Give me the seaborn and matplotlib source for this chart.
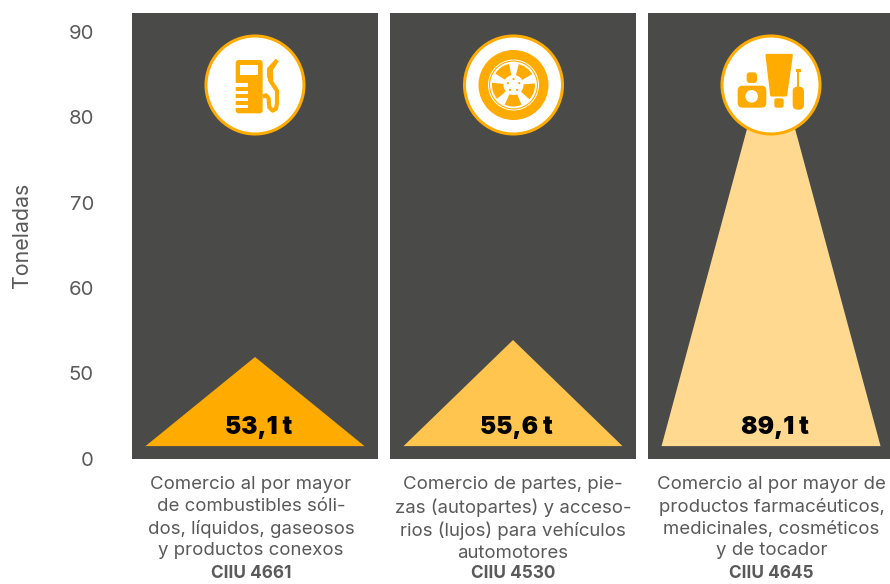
import numpy as np
import pandas as pd
import seaborn as sns
import matplotlib.pyplot as plt
from matplotlib.patches import Circle, Wedge, FancyBboxPatch, Polygon, Rectangle

# datos
codigos = ['CIIU 4661', 'CIIU 4530', 'CIIU 4645']
descripciones = [
    'Comercio al por mayor\nde combustibles sóli-\ndos, líquidos, gaseosos\ny productos conexos',
    'Comercio de partes, pie-\nzas (autopartes) y acceso-\nrios (lujos) para vehículos\nautomotores',
    'Comercio al por mayor de\nproductos farmacéuticos,\nmedicinales, cosméticos\ny de tocador',
]
toneladas = [53.1, 55.6, 89.1]
etiquetas = ['53,1 t', '55,6 t', '89,1 t']
colores = ['#FFAB00', '#FFC54F', '#FFD98F']
ticks_y = [0, 50, 60, 70, 80, 90]

GRIS = '#4A4A49'
TEXTO = '#5A5A5A'
NARANJA = '#FFAB00'
W, H = 890, 584

# la escala del eje esta cortada entre 0 y 50
esc_val = [-100, 0, 50, 53.1, 55.6, 60, 70, 80, 90, 92.2, 200]
esc_pix = [545.3, 459, 373, 357, 340, 288, 203, 117, 32, 13, -80]
ALTO_PANEL = 92.2
BASE = 7.5
MEDIO_ANCHO = 0.4244
POS_TEXTO = [-0.016, 1, 2.002]


def adelante(v):
    return np.interp(v, esc_val, -np.array(esc_pix))


def atras(p):
    return np.interp(p, -np.array(esc_pix), esc_val)


sns.set_theme(style='white')
plt.rcParams['font.family'] = ['Inter', 'DejaVu Sans']

df = pd.DataFrame({'codigo': codigos, 'panel': [ALTO_PANEL] * 3})

fig = plt.figure(figsize=(W / 100, H / 100), dpi=100)
ax = fig.add_axes([126 / W, 1 - 459 / H, (W - 126) / W, (459 - 13) / H])
ax.set_yscale('function', functions=(adelante, atras))
sns.barplot(data=df, x='codigo', y='panel', color=GRIS, saturation=1, width=0.953, linewidth=0, ax=ax)
ax.set_xlim(-0.5, 2.461)
ax.set_ylim(0, ALTO_PANEL)

for i, (v, c, e) in enumerate(zip(toneladas, colores, etiquetas)):
    ax.fill([i - MEDIO_ANCHO, i, i + MEDIO_ANCHO], [BASE, v, BASE], color=c, lw=0, zorder=3)
    ax.annotate(e, (i, BASE), xytext=(2.5, 13.7), textcoords='offset points', ha='center', va='center',
                fontsize=17.5, fontweight='black', color='black', zorder=4)

ax.set_yticks(ticks_y)
ax.set_yticklabels([str(t) for t in ticks_y], fontsize=14.6, color=TEXTO)
ax.minorticks_off()
ax.tick_params(axis='y', length=0, pad=23)
ax.set_ylabel('')
ax.set_xlabel('')
ax.set_xticks(POS_TEXTO)
ax.set_xticklabels(descripciones, fontsize=13.4, color=TEXTO, linespacing=1.34)
ax.tick_params(axis='x', length=0, pad=12.5)
sns.despine(ax=ax, left=True, bottom=True)

fig.text(22 / W, 1 - 235 / H, 'Toneladas', rotation=90, ha='center', va='center', fontsize=15.4, color=TEXTO)
for p, c in zip(POS_TEXTO, codigos):
    ax.annotate(c, (p, 0), xytext=(0, -115), textcoords='offset pixels', ha='center', va='center',
                fontsize=12.4, fontweight='bold', color=TEXTO, annotation_clip=False)

# capa de iconos en pixeles
ov = fig.add_axes([0, 0, 1, 1], facecolor='none')
ov.set_xlim(0, W)
ov.set_ylim(H, 0)
ov.axis('off')


def caja(x0, y0, x1, y1, r=2, color=NARANJA):
    ov.add_patch(FancyBboxPatch((x0 + r, y0 + r), x1 - x0 - 2 * r, y1 - y0 - 2 * r,
                                boxstyle=f'round,pad={r},rounding_size={r}', fc=color, ec='none'))


def circulo(cx):
    ov.add_patch(Circle((cx, 85), 49, fc='white', ec=NARANJA, lw=2.2))


# surtidor
circulo(255)
fx = lambda z: 190 + z / 3
fy = lambda z: 20 + z / 3
caja(fx(137), fy(120), fx(218), fy(280), 3)
ov.add_patch(Rectangle((fx(151), fy(135)), (203 - 151) / 3, 10, fc='white', ec='none'))
for yy in [190, 212, 233, 255]:
    ov.add_patch(Rectangle((fx(135), fy(yy)), 12.5, 3.3, fc='white', ec='none'))
ov.plot([fx(z) for z in [218, 228, 236, 238, 248, 258, 261, 261, 240, 238]],
        [fy(z) for z in [230, 226, 235, 262, 272, 266, 250, 212, 180, 150]],
        color=NARANJA, lw=3, solid_capstyle='butt', solid_joinstyle='round')
ov.add_patch(Polygon([(fx(231), fy(145)), (fx(257), fy(116)), (fx(266), fy(124)), (fx(249), fy(150)),
                      (fx(250), fy(185)), (fx(231), fy(172))], fc=NARANJA, ec='none'))

# llanta
cx, cy = 513.5, 85
circulo(cx)
ov.add_patch(Circle((cx, cy), 35, fc=NARANJA, ec='none'))
ov.add_patch(Circle((cx, cy), 25.5, fc='white', ec='none'))
ov.add_patch(Circle((cx, cy), 24.5, fc=NARANJA, ec='none'))
ov.add_patch(Circle((cx, cy), 23.4, fc='white', ec='none'))
for ang in [125, 53, -19, -91, -163]:
    # y invertida en esta capa
    ov.add_patch(Wedge((cx, cy), 21.5, -ang - 23, -ang + 23, width=11.5, fc=NARANJA, ec='none'))
for ang in [90, 18, -54, -126, 162]:
    a = np.deg2rad(ang)
    ov.add_patch(Circle((cx + 6 * np.cos(a), cy - 6 * np.sin(a)), 1.1, fc=NARANJA, ec='none'))

# cosmeticos
circulo(771)
gx = lambda z: 705 + z / 3
gy = lambda z: 20 + z / 3
ov.add_patch(Polygon([(gx(186), gy(106)), (gx(259), gy(106)), (gx(242), gy(225)), (gx(200), gy(225))],
                     fc=NARANJA, ec=NARANJA, lw=2.2, joinstyle='round'))
caja(gx(208), gy(235), gx(236), gy(263), 2)
caja(gx(98), gy(197), gx(184), gy(263), 5)
caja(gx(125), gy(157), gx(156), gy(189), 3)
ov.add_patch(Circle((gx(140), gy(229)), 6.3, fc='white', ec='none'))
ov.add_patch(Rectangle((gx(272), gy(147)), 5, 2.5, fc=NARANJA, ec='none'))
ov.add_patch(Rectangle((gx(277), gy(150)), 1.8, 18, fc=NARANJA, ec='none'))
caja(gx(263), gy(200), gx(297), gy(269), 5)

fig.savefig('out.png', dpi=100)
